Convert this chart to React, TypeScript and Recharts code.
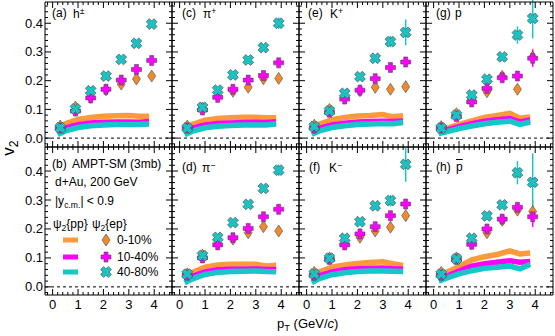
import React from 'react';
import { ComposedChart, Line, Scatter, XAxis, YAxis, ReferenceLine, ErrorBar } from 'recharts';

// pT bins of the psi2{ep} points and of the psi2{pp} bands
const pT = [0.3, 0.9, 1.5, 2.1, 2.7, 3.3, 3.9];
const bandPt = [0.2, 0.5, 1.0, 1.5, 2.0, 2.5, 3.0, 3.4, 3.8];
const xTickLabels = [0, 1, 2, 3, 4];
const yTickLabels = [0.0, 0.1, 0.2, 0.3, 0.4];
const centralities = ['0-10%', '10-40%', '40-80%'];
const noErr = [0, 0, 0, 0, 0, 0, 0];

// (a) h+-
const hpmEp010 = [0.042, 0.108, 0.142, 0.168, 0.188, 0.206, 0.216];
const hpmEp1040 = [0.035, 0.094, 0.140, 0.170, 0.202, 0.239, 0.270];
const hpmEp4080 = [0.036, 0.102, 0.165, 0.216, 0.274, 0.330, 0.397];
const hpmPp010 = [0.033, 0.050, 0.065, 0.072, 0.076, 0.078, 0.079, 0.076, 0.076];
const hpmPp1040 = [0.022, 0.035, 0.047, 0.053, 0.055, 0.056, 0.056, 0.055, 0.058];
const hpmPp4080 = [0.012, 0.025, 0.037, 0.043, 0.046, 0.047, 0.047, 0.047, 0.049];

// (c) pi+
const pipEp010 = [0.042, 0.105, 0.145, 0.163, 0.177, 0.207, 0.208];
const pipEp1040 = [0.035, 0.098, 0.142, 0.170, 0.202, 0.218, 0.262];
const pipEp4080 = [0.035, 0.107, 0.167, 0.220, 0.272, 0.315, 0.400];
const pipErr4080 = [0, 0, 0, 0, 0, 0.005, 0.02];
const pipPp010 = [0.030, 0.047, 0.062, 0.068, 0.071, 0.073, 0.073, 0.071, 0.071];
const pipPp1040 = [0.022, 0.035, 0.046, 0.051, 0.053, 0.054, 0.055, 0.054, 0.057];
const pipPp4080 = [0.012, 0.024, 0.036, 0.041, 0.044, 0.046, 0.046, 0.046, 0.049];

// (e) K+
const kpEp010 = [0.045, 0.100, 0.140, 0.165, 0.177, 0.170, 0.179];
const kpEp1040 = [0.035, 0.090, 0.136, 0.167, 0.207, 0.246, 0.265];
const kpEp4080 = [0.040, 0.095, 0.156, 0.214, 0.278, 0.336, 0.368];
const kpErr010 = [0, 0, 0, 0, 0, 0, 0.02];
const kpErr1040 = [0, 0, 0, 0, 0, 0, 0.015];
const kpErr4080 = [0, 0, 0, 0, 0, 0.02, 0.045];
const kpPp010 = [0.030, 0.048, 0.064, 0.072, 0.077, 0.079, 0.082, 0.074, 0.078];
const kpPp1040 = [0.022, 0.034, 0.046, 0.052, 0.056, 0.058, 0.059, 0.058, 0.060];
const kpPp4080 = [0.013, 0.025, 0.037, 0.043, 0.047, 0.049, 0.051, 0.050, 0.054];

// (g) p
const pEp010 = [0.040, 0.085, 0.135, 0.161, 0.215, 0.170, 0.282];
const pEp1040 = [0.035, 0.075, 0.126, 0.173, 0.210, 0.216, 0.278];
const pEp4080 = [0.035, 0.080, 0.150, 0.205, 0.283, 0.359, 0.417];
const pErr010 = [0, 0, 0, 0, 0, 0, 0.03];
const pErr1040 = [0, 0, 0, 0, 0, 0.01, 0.03];
const pErr4080 = [0, 0, 0, 0, 0, 0.03, 0.07];
const pPp010 = [0.025, 0.033, 0.048, 0.060, 0.072, 0.079, 0.086, 0.069, 0.074];
const pPp1040 = [0.022, 0.028, 0.040, 0.050, 0.059, 0.064, 0.068, 0.056, 0.063];
const pPp4080 = [0.016, 0.022, 0.033, 0.042, 0.050, 0.055, 0.059, 0.048, 0.056];

// (d) pi-
const pimEp010 = [0.045, 0.110, 0.150, 0.165, 0.187, 0.208, 0.193];
const pimEp1040 = [0.040, 0.100, 0.145, 0.170, 0.202, 0.242, 0.268];
const pimEp4080 = [0.044, 0.108, 0.171, 0.222, 0.285, 0.340, 0.403];
const pimErr4080 = [0, 0, 0, 0, 0, 0.005, 0.02];
const pimPp010 = [0.030, 0.050, 0.068, 0.076, 0.078, 0.078, 0.078, 0.072, 0.075];
const pimPp1040 = [0.022, 0.037, 0.052, 0.059, 0.061, 0.061, 0.062, 0.060, 0.060];
const pimPp4080 = [0.014, 0.028, 0.043, 0.050, 0.053, 0.054, 0.055, 0.053, 0.052];

// (f) K-
const kmEp010 = [0.050, 0.100, 0.150, 0.171, 0.193, 0.206, 0.246];
const kmEp1040 = [0.040, 0.095, 0.145, 0.183, 0.208, 0.246, 0.286];
const kmEp4080 = [0.045, 0.099, 0.168, 0.225, 0.280, 0.298, 0.423];
const kmErr010 = [0, 0, 0, 0, 0, 0, 0.015];
const kmErr1040 = [0, 0, 0, 0, 0, 0, 0.015];
const kmErr4080 = [0, 0, 0, 0, 0, 0.02, 0.06];
const kmPp010 = [0.032, 0.052, 0.068, 0.076, 0.081, 0.084, 0.087, 0.080, 0.074];
const kmPp1040 = [0.024, 0.038, 0.052, 0.059, 0.063, 0.064, 0.065, 0.063, 0.062];
const kmPp4080 = [0.015, 0.029, 0.042, 0.049, 0.053, 0.055, 0.055, 0.054, 0.053];

// (h) pbar
const pbarEp010 = [0.050, 0.100, 0.150, 0.187, 0.230, 0.265, 0.260];
const pbarEp1040 = [0.040, 0.095, 0.147, 0.200, 0.234, 0.275, 0.242];
const pbarEp4080 = [0.044, 0.097, 0.168, 0.245, 0.283, 0.394, 0.361];
const pbarErr010 = [0, 0, 0, 0, 0, 0.01, 0.04];
const pbarErr1040 = [0, 0, 0, 0, 0, 0.01, 0.035];
const pbarErr4080 = [0, 0, 0, 0, 0, 0.04, 0.1];
const pbarPp010 = [0.035, 0.050, 0.070, 0.093, 0.104, 0.112, 0.124, 0.114, 0.117];
const pbarPp1040 = [0.025, 0.036, 0.055, 0.072, 0.080, 0.085, 0.090, 0.085, 0.088];
const pbarPp4080 = [0.020, 0.030, 0.045, 0.056, 0.064, 0.068, 0.072, 0.062, 0.078];

const FONT = '"Liberation Sans", Arial, Helvetica, sans-serif';
const BAND_COLORS = ['#ff9a3c', '#ff00ff', '#14c8c8'];
const MARK_COLORS = ['#f08a2a', '#ff00ff', '#1cc2c2'];
const OUTLINE = '#4a4a4a';

const PLOT_W = 127;
const colX = [45, 172, 299, 426];
const rowY = [2, 147];
const rowH = [145, 148];
const rowDomain: [number, number][] = [[-0.031, 0.474], [-0.028, 0.483]];

// minor + major tick positions
const xTicks = Array.from({ length: 25 }, (_, i) => Math.round((-0.2 + 0.2 * i) * 100) / 100);
const yTicks = Array.from({ length: 25 }, (_, i) => Math.round((-0.02 + 0.02 * i) * 100) / 100);
const isMajorX = (v: number) => xTickLabels.some((t) => Math.abs(t - v) < 1e-6);
const isMajorY = (v: number) => Math.abs(v * 10 - Math.round(v * 10)) < 1e-6;

const bottomTick = (labels: boolean) => (props: any) => {
  const { x, y, payload } = props;
  const major = isMajorX(payload.value);
  return (
    <g>
      <line x1={x} y1={y} x2={x} y2={y - (major ? 6 : 3)} stroke="#000" />
      {labels && major && (
        <text x={x} y={y + 14} textAnchor="middle" fontSize={13} fontFamily={FONT} fill="#000">
          {payload.value}
        </text>
      )}
    </g>
  );
};
const topTick = (props: any) => {
  const { x, y, payload } = props;
  return <line x1={x} y1={y} x2={x} y2={y + (isMajorX(payload.value) ? 6 : 3)} stroke="#000" />;
};
const leftTick = (labels: boolean) => (props: any) => {
  const { x, y, payload } = props;
  const major = isMajorY(payload.value);
  const showLabel = labels && major && yTickLabels.some((t) => Math.abs(t - payload.value) < 1e-6);
  return (
    <g>
      <line x1={x} y1={y} x2={x + (major ? 6 : 3)} y2={y} stroke="#000" />
      {showLabel && (
        <text x={x - 2} y={y + 4.5} textAnchor="end" fontSize={13} fontFamily={FONT} fill="#000">
          {payload.value.toFixed(1)}
        </text>
      )}
    </g>
  );
};
const rightTick = (props: any) => {
  const { x, y, payload } = props;
  return <line x1={x} y1={y} x2={x - (isMajorY(payload.value) ? 6 : 3)} y2={y} stroke="#000" />;
};

const plusPath = (cx: number, cy: number, a: number, t: number) =>
  `M${cx - t},${cy - a}H${cx + t}V${cy - t}H${cx + a}V${cy + t}H${cx + t}V${cy + a}H${cx - t}V${cy + t}H${cx - a}V${cy - t}H${cx - t}Z`;

const Diamond = ({ cx, cy }: any) => (
  <path d={`M${cx},${cy - 6}L${cx + 4},${cy}L${cx},${cy + 6}L${cx - 4},${cy}Z`} fill={MARK_COLORS[0]} stroke={OUTLINE} strokeWidth={0.6} />
);
const Plus = ({ cx, cy }: any) => (
  <path d={plusPath(cx, cy, 5, 2)} fill={MARK_COLORS[1]} stroke={OUTLINE} strokeWidth={0.6} />
);
const Cross = ({ cx, cy }: any) => (
  <path d={plusPath(cx, cy, 5.5, 2.2)} transform={`rotate(45 ${cx} ${cy})`} fill={MARK_COLORS[2]} stroke={OUTLINE} strokeWidth={0.6} />
);
const shapes = [Diamond, Plus, Cross];

interface PanelProps {
  col: number;
  row: number;
  ep?: number[][];
  err?: number[][];
  pp?: number[][];
}

const AX = 1; // thickness reserved by each axis

const Panel: React.FC<PanelProps> = ({ col, row, ep, err, pp }) => {
  const ml = col === 0 ? 40 : 2;
  const mb = row === 1 ? 22 : 2;
  const mt = 2;
  const mr = 2;
  const w = PLOT_W + ml + mr;
  const h = rowH[row] + mt + mb;
  return (
    <div style={{ position: 'absolute', left: colX[col] - ml, top: rowY[row] - mt }}>
      <ComposedChart width={w} height={h} margin={{ top: mt - AX, right: mr - AX, bottom: mb - AX, left: ml - AX }}>
        <XAxis xAxisId="b" dataKey="x" type="number" domain={[-0.3, 4.7]} allowDataOverflow ticks={xTicks} interval={0}
          height={AX} tickSize={0} tickMargin={0} tickLine={false} axisLine={{ stroke: '#000' }} tick={bottomTick(row === 1)} />
        <XAxis xAxisId="t" orientation="top" dataKey="x" type="number" domain={[-0.3, 4.7]} allowDataOverflow ticks={xTicks} interval={0}
          height={AX} tickSize={0} tickMargin={0} tickLine={false} axisLine={{ stroke: '#000' }} tick={topTick} />
        <YAxis yAxisId="l" dataKey="y" type="number" domain={rowDomain[row]} allowDataOverflow ticks={yTicks} interval={0}
          width={AX} tickSize={0} tickMargin={0} tickLine={false} axisLine={{ stroke: '#000' }} tick={leftTick(col === 0)} />
        <YAxis yAxisId="r" orientation="right" dataKey="y" type="number" domain={rowDomain[row]} allowDataOverflow ticks={yTicks} interval={0}
          width={AX} tickSize={0} tickMargin={0} tickLine={false} axisLine={{ stroke: '#000' }} tick={rightTick} />
        <ReferenceLine xAxisId="b" yAxisId="l" y={0} stroke="#000" strokeDasharray="3 3" />
        {pp && pp.map((vals, s) => (
          <Line key={'pp' + s} xAxisId="b" yAxisId="l" data={bandPt.map((x, i) => ({ x, y: vals[i] }))} dataKey="y"
            type="linear" stroke={BAND_COLORS[s]} strokeWidth={5.5} dot={false} activeDot={false} isAnimationActive={false} />
        ))}
        {ep && ep.map((vals, s) => (
          <Scatter key={'ep' + s} xAxisId="b" yAxisId="l" data={pT.map((x, i) => ({ x, y: vals[i], e: (err ? err[s] : noErr)[i] }))}
            dataKey="y" shape={shapes[s]} isAnimationActive={false}>
            <ErrorBar dataKey="e" direction="y" width={0} stroke={BAND_COLORS[s]} strokeWidth={1.5} />
          </Scatter>
        ))}
      </ComposedChart>
    </div>
  );
};

const Txt: React.FC<{ x: number; y: number; size?: number; children: React.ReactNode }> = ({ x, y, size = 12, children }) => (
  <div style={{ position: 'absolute', left: x, top: y - size * 0.5, fontSize: size, lineHeight: '1', whiteSpace: 'nowrap', fontFamily: FONT, color: '#000' }}>
    {children}
  </div>
);

const sub = { fontSize: '0.72em', verticalAlign: '-0.3em' } as const;
const sup = { fontSize: '0.72em', verticalAlign: '0.45em' } as const;

const legendRowsY = [240, 257, 272];

const App: React.FC = () => {
  return (
    <div style={{ position: 'absolute', left: 0, top: 0, width: 555, height: 336, background: '#fff', overflow: 'hidden', fontFamily: FONT }}>
      <Panel col={0} row={0} ep={[hpmEp010, hpmEp1040, hpmEp4080]} pp={[hpmPp010, hpmPp1040, hpmPp4080]} />
      <Panel col={1} row={0} ep={[pipEp010, pipEp1040, pipEp4080]} err={[noErr, noErr, pipErr4080]} pp={[pipPp010, pipPp1040, pipPp4080]} />
      <Panel col={2} row={0} ep={[kpEp010, kpEp1040, kpEp4080]} err={[kpErr010, kpErr1040, kpErr4080]} pp={[kpPp010, kpPp1040, kpPp4080]} />
      <Panel col={3} row={0} ep={[pEp010, pEp1040, pEp4080]} err={[pErr010, pErr1040, pErr4080]} pp={[pPp010, pPp1040, pPp4080]} />
      <Panel col={0} row={1} />
      <Panel col={1} row={1} ep={[pimEp010, pimEp1040, pimEp4080]} err={[noErr, noErr, pimErr4080]} pp={[pimPp010, pimPp1040, pimPp4080]} />
      <Panel col={2} row={1} ep={[kmEp010, kmEp1040, kmEp4080]} err={[kmErr010, kmErr1040, kmErr4080]} pp={[kmPp010, kmPp1040, kmPp4080]} />
      <Panel col={3} row={1} ep={[pbarEp010, pbarEp1040, pbarEp4080]} err={[pbarErr010, pbarErr1040, pbarErr4080]} pp={[pbarPp010, pbarPp1040, pbarPp4080]} />

      {/* panel labels */}
      <Txt x={52} y={13}>(a)</Txt>
      <Txt x={73} y={13}>h<span style={sup}>±</span></Txt>
      <Txt x={182} y={13}>(c)</Txt>
      <Txt x={203} y={13}>π<span style={sup}>+</span></Txt>
      <Txt x={308} y={13}>(e)</Txt>
      <Txt x={330} y={13}>K<span style={sup}>+</span></Txt>
      <Txt x={436} y={13}>(g)</Txt>
      <Txt x={455} y={13}>p</Txt>
      <Txt x={182} y={167}>(d)</Txt>
      <Txt x={202} y={167}>π<span style={sup}>−</span></Txt>
      <Txt x={309} y={167}>(f)</Txt>
      <Txt x={329} y={167}>K<span style={sup}>−</span></Txt>
      <Txt x={436} y={167}>(h)</Txt>
      <Txt x={456} y={167}><span style={{ textDecoration: 'overline' }}>p</span></Txt>

      {/* legend panel (b) */}
      <Txt x={52} y={164}>(b)</Txt>
      <Txt x={72} y={164}>AMPT-SM (3mb)</Txt>
      <Txt x={55} y={182}>d+Au, 200 GeV</Txt>
      <Txt x={55} y={201}>|y<span style={sub}>c.m.</span>| &lt; 0.9</Txt>
      <Txt x={53} y={224}>ψ<span style={sub}>2</span>{'{pp}'}</Txt>
      <Txt x={92} y={224}>ψ<span style={sub}>2</span>{'{ep}'}</Txt>
      {centralities.map((c, s) => (
        <React.Fragment key={c}>
          <svg style={{ position: 'absolute', left: 60, top: legendRowsY[s] - 8, overflow: 'visible' }} width={56} height={16}>
            <line x1={3} y1={8} x2={18} y2={8} stroke={BAND_COLORS[s]} strokeWidth={5} />
            {React.createElement(shapes[s], { cx: 46, cy: 8 })}
          </svg>
          <Txt x={117} y={legendRowsY[s]}>{c}</Txt>
        </React.Fragment>
      ))}

      {/* axis titles */}
      <div style={{ position: 'absolute', left: 10, top: 148, transform: 'translate(-50%, -50%) rotate(-90deg)', fontSize: 17, lineHeight: '1', whiteSpace: 'nowrap' }}>
        v<span style={sub}>2</span>
      </div>
      <Txt x={277} y={323} size={13}>
        p<span style={sub}>T</span> (GeV/<i>c</i>)
      </Txt>
    </div>
  );
};

export default App;
